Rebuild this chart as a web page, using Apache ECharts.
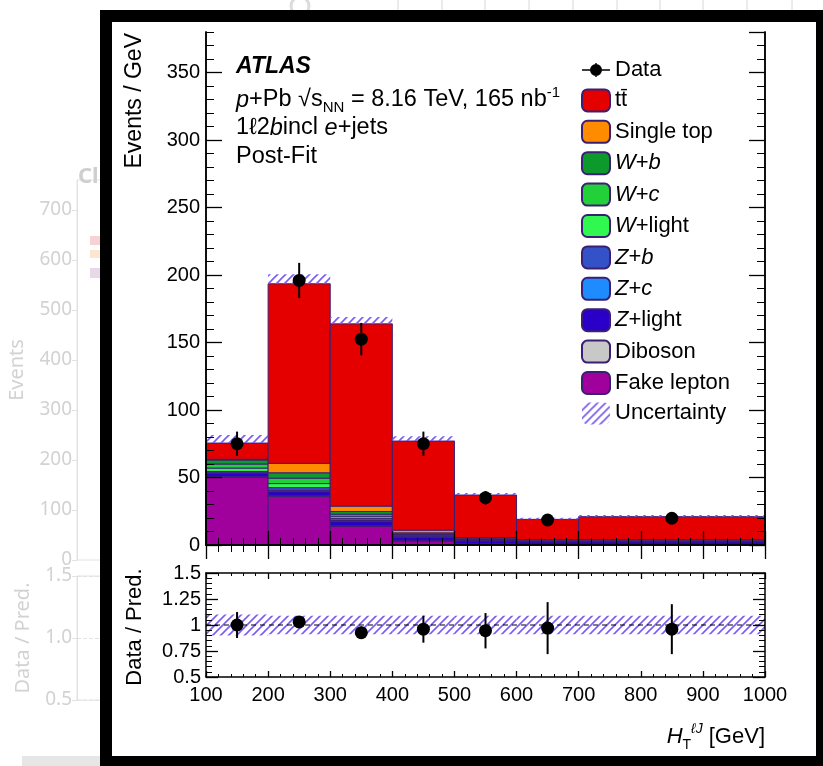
<!DOCTYPE html>
<html><head><meta charset="utf-8">
<script src="https://cdn.jsdelivr.net/npm/echarts@6/dist/echarts.min.js"></script>
<style>html,body{margin:0;padding:0;background:#fff}#c{width:823px;height:766px}</style>
</head><body><div id="c"></div>
<script>
// ---------- data (Events / GeV) ----------
const binLow  = [100, 200, 300, 400, 500, 600, 700];
const binHigh = [200, 300, 400, 500, 600, 700, 1000];

const fakeLepton = [50, 36, 14, 3, 0.6, 0.3, 0.3];
const diboson    = [0.5, 0.5, 0.3, 0.2, 0.2, 0.1, 0.1];
const zLight     = [2.5, 3, 3, 2.5, 2.2, 2, 2];
const zc         = [0.5, 1, 0.8, 0.5, 0.3, 0.2, 0.2];
const zb         = [1, 2, 1.7, 1, 0.5, 0.4, 0.4];
const wLight     = [2.5, 3, 1.5, 0.5, 0.3, 0.2, 0.2];
const wc         = [3, 4, 1.5, 0.5, 0.3, 0.2, 0.2];
const wb         = [3, 4, 2, 0.8, 0.3, 0.2, 0.2];
const singleTop  = [0.5, 7, 4, 2, 0.8, 0.4, 0.4];
const ttbar      = [12, 133, 135, 66, 31.5, 15, 17];

const uncUp      = [6, 7, 5, 3.5, 1.5, 1.2, 1.2];

const dataValues = [75, 196, 152.5, 75, 35, 18.5, 19.8];
const dataErrors = [9, 13, 12, 9, 5, 4, 4];

const ratioValues = [1.0, 1.03, 0.926, 0.96, 0.945, 0.97, 0.96];
const ratioErrors = [0.125, 0.05, 0.06, 0.13, 0.17, 0.25, 0.24];
const ratioBand   = [0.1, 0.09, 0.09, 0.09, 0.09, 0.09, 0.09];

const xTickLabels = [100, 200, 300, 400, 500, 600, 700, 800, 900, 1000];
const yTickLabelsMain = [0, 50, 100, 150, 200, 250, 300, 350];
const yTickLabelsRatio = [0.5, 0.75, 1, 1.25, 1.5];

// stack order bottom -> top
const components = [
  ['Fake lepton', fakeLepton], ['Diboson', diboson], ['Z+light', zLight], ['Z+c', zc], ['Z+b', zb],
  ['W+light', wLight], ['W+c', wc], ['W+b', wb], ['Single top', singleTop], ['ttbar', ttbar]
];
const colors = {
  'ttbar':'#e50000','Single top':'#ff8c00','W+b':'#0c9a2c','W+c':'#22d13a','W+light':'#30f850',
  'Z+b':'#3352c8','Z+c':'#1e8cff','Z+light':'#2a00c8','Diboson':'#c8c8c8','Fake lepton':'#a0009c'
};
const legendLabels = {
  'Data':'Data','ttbar':'tt\u0304','Single top':'Single top','W+b':'{i|W}+{i|b}','W+c':'{i|W}+{i|c}',
  'W+light':'{i|W}+light','Z+b':'{i|Z}+{i|b}','Z+c':'{i|Z}+{i|c}','Z+light':'{i|Z}+light',
  'Diboson':'Diboson','Fake lepton':'Fake lepton','Uncertainty':'Uncertainty'
};

const FF = "'Liberation Sans', Arial, Helvetica, sans-serif";
const BG = "'Noto Sans', 'Open Sans', sans-serif";

function hatch(){
  const s = 8, c = document.createElement('canvas'); c.width = s; c.height = s;
  const g = c.getContext('2d'); g.strokeStyle = '#7a5cf0'; g.lineWidth = 1.6;
  g.beginPath(); g.moveTo(0, s); g.lineTo(s, 0);
  g.moveTo(-2, 2); g.lineTo(2, -2); g.moveTo(s-2, s+2); g.lineTo(s+2, s-2); g.stroke();
  return c;
}
const hatchFill = {image: hatch(), repeat: 'repeat'};

function rectRender(params, api){
  const p0 = api.coord([api.value(0), api.value(3)]);
  const p1 = api.coord([api.value(1), api.value(2)]);
  return {type:'rect', shape:{x:p0[0], y:p0[1], width:p1[0]-p0[0], height:p1[1]-p0[1]}, style: api.style()};
}
function pointRender(params, api){
  const x = api.value(0), y = api.value(1), e = api.value(2);
  const c = api.coord([x, y]), t = api.coord([x, y + e]), b = api.coord([x, y - e]);
  return {type:'group', children:[
    {type:'line', shape:{x1:c[0], y1:t[1], x2:c[0], y2:b[1]}, style:{stroke:'#000', lineWidth:2}},
    {type:'circle', shape:{cx:c[0], cy:c[1], r:6.5}, style:{fill:'#000'}}
  ]};
}

const series = [];
const base = binLow.map(() => 0);
components.forEach(([name, vals]) => {
  const d = vals.map((v, i) => { const r = [binLow[i], binHigh[i], base[i], base[i] + v]; base[i] += v; return r; });
  series.push({name, type:'custom', xAxisIndex:0, yAxisIndex:0, renderItem:rectRender,
    encode:{x:[0,1], y:[2,3]}, data:d,
    itemStyle:{color:colors[name], borderColor:'#3b1f73', borderWidth:1}});
});
series.push({name:'Uncertainty', type:'custom', xAxisIndex:0, yAxisIndex:0, renderItem:rectRender,
  encode:{x:[0,1], y:[2,3]}, data: base.map((t, i) => [binLow[i], binHigh[i], t, t + uncUp[i]]),
  itemStyle:{color:hatchFill, borderWidth:0}});
series.push({name:'Data', type:'custom', xAxisIndex:0, yAxisIndex:0, renderItem:pointRender,
  encode:{x:0, y:1}, data: dataValues.map((v, i) => [(binLow[i] + binHigh[i]) / 2, v, dataErrors[i]]),
  itemStyle:{color:'#000'}, z:5});
// ratio panel
series.push({name:'ratioBand', type:'custom', xAxisIndex:2, yAxisIndex:4, renderItem:rectRender,
  encode:{x:[0,1], y:[2,3]}, data: ratioBand.map((u, i) => [binLow[i], binHigh[i], 1 - u, 1 + u]),
  itemStyle:{color:hatchFill, borderWidth:0}});
series.push({name:'one', type:'line', xAxisIndex:2, yAxisIndex:4, data:[[100,1],[1000,1]], symbol:'none',
  lineStyle:{color:'#000', width:1, type:[5,4]}, silent:true});
series.push({name:'ratio', type:'custom', xAxisIndex:2, yAxisIndex:4, renderItem:pointRender,
  encode:{x:0, y:1}, data: ratioValues.map((v, i) => [(binLow[i] + binHigh[i]) / 2, v, ratioErrors[i]]),
  itemStyle:{color:'#000'}, z:5});

const axLine = {show:true, lineStyle:{color:'#000', width:1.5}};
function xAx(grid, pos, maj, min, labels){
  return {type:'value', gridIndex:grid, position:pos, min:100, max:1000, interval:100, z:10,
    axisLine:axLine, splitLine:{show:false},
    axisTick:{show:true, inside:true, length:maj, lineStyle:{color:'#000', width:1.3}},
    minorTick:{show:true, splitNumber:5, length:min, lineStyle:{color:'#000', width:1}},
    axisLabel:labels ? {show:true, fontSize:20, fontFamily:FF, color:'#000', margin:8,
      formatter: v => xTickLabels.includes(v) ? String(v) : ''} : {show:false}};
}
function yMain(pos, interval, len, labels){
  return {type:'value', gridIndex:0, position:pos, min:0, max:380, interval, z:10,
    axisLine:axLine, splitLine:{show:false},
    axisTick:{show:true, inside:true, length:len, lineStyle:{color:'#000', width:interval === 50 ? 1.3 : 1}},
    axisLabel:labels ? {show:true, fontSize:20, fontFamily:FF, color:'#000', margin:6, showMaxLabel:false,
      formatter: v => yTickLabelsMain.includes(v) ? String(v) : ''} : {show:false}};
}
function yRatio(pos, labels){
  return {type:'value', gridIndex:1, position:pos, min:0.5, max:1.5, interval:0.25, z:10,
    axisLine:axLine, splitLine:{show:false},
    axisTick:{show:true, inside:true, length:12, lineStyle:{color:'#000', width:1.3}},
    minorTick:{show:true, splitNumber:5, length:6, lineStyle:{color:'#000', width:1}},
    axisLabel:labels ? {show:true, fontSize:20, fontFamily:FF, color:'#000', margin:5,
      formatter: v => yTickLabelsRatio.includes(v) ? String(v) : ''} : {show:false}};
}

const option = {
  backgroundColor:'#fff',
  animation:false,
  grid:[
    {left:206, top:32, width:559, height:513},
    {left:206, top:573, width:559, height:104},
    {left:77, top:180, width:30, height:380, show:true, borderColor:'#e2e2e2', borderWidth:1},
    {left:77, top:576, width:30, height:124, show:true, borderColor:'#e2e2e2', borderWidth:1}
  ],
  xAxis:[
    xAx(0, 'bottom', 14, 7, false),
    xAx(0, 'top', 14, 7, false),
    xAx(1, 'bottom', 6, 3, true),
    xAx(1, 'top', 6, 3, false),
    {type:'value', gridIndex:2, show:false, min:0, max:1},
    {type:'value', gridIndex:3, show:false, min:0, max:1}
  ],
  yAxis:[
    yMain('left', 50, 16, true),
    yMain('left', 10, 8, false),
    yMain('right', 50, 16, false),
    yMain('right', 10, 8, false),
    yRatio('left', true),
    yRatio('right', false),
    {type:'value', gridIndex:2, min:0, max:760, interval:100,
      axisLine:{show:true, lineStyle:{color:'#e2e2e2'}}, axisTick:{show:true, length:5, lineStyle:{color:'#e2e2e2'}},
      splitLine:{show:false},
      axisLabel:{color:'#d2d2d2', fontSize:19, fontFamily:BG, margin:5, showMaxLabel:false},
      name:'Events', nameLocation:'middle', nameGap:50, nameTextStyle:{color:'#d2d2d2', fontSize:20, fontFamily:BG}},
    {type:'value', gridIndex:3, min:0.5, max:1.5, interval:0.5,
      axisLine:{show:true, lineStyle:{color:'#e2e2e2'}}, axisTick:{show:true, length:5, lineStyle:{color:'#e2e2e2'}},
      splitLine:{show:true, lineStyle:{color:'#e2e2e2', type:'dashed'}},
      axisLabel:{color:'#d2d2d2', fontSize:19, fontFamily:BG, margin:5, formatter: v => v.toFixed(1)},
      name:'Data / Pred.', nameLocation:'middle', nameGap:44, nameTextStyle:{color:'#d2d2d2', fontSize:20, fontFamily:BG}}
  ],
  legend:{
    orient:'vertical', left:576, top:54, itemWidth:28, itemHeight:22, itemGap:7.4, selectedMode:false,
    textStyle:{fontSize:22, fontFamily:FF, color:'#000',
      rich:{i:{fontStyle:'italic', fontSize:22, fontFamily:FF, color:'#000'}}},
    formatter: n => legendLabels[n],
    data:[
      {name:'Data', icon:'path://M0,10.3h28v1.4h-28z M8,11a6,6 0 1,1 12,0a6,6 0 1,1 -12,0z M13.3,4h1.4v14h-1.4z'},
      'ttbar','Single top','W+b','W+c','W+light','Z+b','Z+c','Z+light','Diboson','Fake lepton','Uncertainty'
    ]
  },
  graphic:[
    // faded background chart remnants
    {type:'text', left:78, top:166, style:{text:'Cl', font:'bold 22px ' + BG, fill:'#cfcfcf'}},
    {type:'rect', shape:{x:90, y:236, width:14, height:9}, style:{fill:'#f6d2d4'}},
    {type:'rect', shape:{x:90, y:250, width:14, height:8}, style:{fill:'#fde6cf'}},
    {type:'rect', shape:{x:90, y:268, width:14, height:10}, style:{fill:'#e8d8e8'}},
    {type:'rect', shape:{x:22, y:756, width:80, height:10}, style:{fill:'#e6e6e6'}},
    {type:'circle', shape:{cx:300, cy:6, r:9}, style:{fill:'none', stroke:'#dcdcdc', lineWidth:3}},
    ...[398, 442, 485, 529, 573, 617, 660, 703, 747, 792].map(x => (
      {type:'line', shape:{x1:x, y1:0, x2:x, y2:11}, style:{stroke:'#d8d8d8', lineWidth:1}})),
    // black frame
    {type:'rect', z:100, shape:{x:106, y:16, width:716, height:746}, style:{fill:'none', stroke:'#000', lineWidth:12}},
    // ATLAS annotations
    {type:'text', x:236, y:67, style:{text:'ATLAS', font:'italic bold 23px ' + FF, fill:'#000', verticalAlign:'middle'}},
    {type:'text', x:236, y:100, style:{
      text:'{i|p}+Pb \u221A{n|s}{sub|NN} = 8.16 TeV, 165 nb{sup|-1}', verticalAlign:'middle',
      font:'23.5px ' + FF, fill:'#000', lineHeight:30,
      rich:{i:{fontStyle:'italic', fontSize:23.5, fontFamily:FF, lineHeight:30},
            n:{fontSize:23.5, fontFamily:FF, lineHeight:30},
            sub:{fontSize:15, fontFamily:FF, verticalAlign:'bottom', lineHeight:14},
            sup:{fontSize:15, fontFamily:FF, verticalAlign:'top', lineHeight:14}}}},
    {type:'text', x:236, y:128, style:{
      text:'1\u21132{i|b}incl {i|e}+jets', verticalAlign:'middle', font:'23.5px ' + FF, fill:'#000',
      rich:{i:{fontStyle:'italic', fontSize:23.5, fontFamily:FF}}}},
    {type:'text', x:236, y:157, style:{text:'Post-Fit', font:'23.5px ' + FF, fill:'#000', verticalAlign:'middle'}},
    // axis titles
    {type:'text', x:135, y:33, rotation:Math.PI/2, style:{text:'Events / GeV', font:'23px ' + FF, fill:'#000',
      align:'right', verticalAlign:'middle'}},
    {type:'text', x:135, y:627, rotation:Math.PI/2, style:{text:'Data / Pred.', font:'22px ' + FF, fill:'#000',
      align:'center', verticalAlign:'middle'}},
    {type:'text', x:765, y:737, style:{
      text:'{i|H}{sub|T}{sup|\u2113J} [GeV]', align:'right', verticalAlign:'middle', font:'22px ' + FF, fill:'#000',
      lineHeight:30,
      rich:{i:{fontStyle:'italic', fontSize:22, fontFamily:FF, lineHeight:30},
            sub:{fontSize:14, fontFamily:FF, verticalAlign:'bottom', lineHeight:14},
            sup:{fontSize:14, fontStyle:'italic', fontFamily:FF, verticalAlign:'top', lineHeight:14}}}}
  ],
  series
};
echarts.init(document.getElementById('c'), null, {renderer:'canvas'}).setOption(option);
</script></body></html>
